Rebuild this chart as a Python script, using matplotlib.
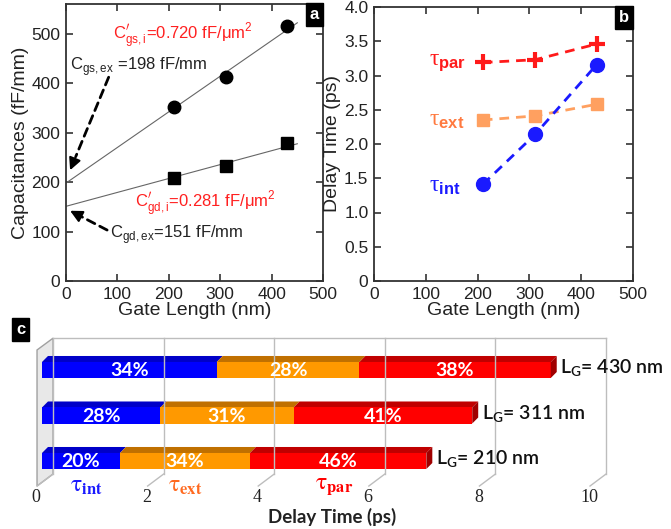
import numpy as np
import matplotlib
matplotlib.use('Agg')
import matplotlib.pyplot as plt
from matplotlib.patches import Polygon, Rectangle

plt.rcParams['font.family'] = ['Liberation Sans', 'DejaVu Sans']
plt.rcParams['mathtext.fontset'] = 'dejavusans'
plt.rcParams['mathtext.rm'] = 'Liberation Serif'
plt.rcParams['mathtext.it'] = 'Liberation Serif'
plt.rcParams['mathtext.bf'] = 'Liberation Sans:bold'

# Data
gate_len = [210, 311, 430]
cgs = [351, 413, 515]
cgd = [208, 233, 279]
cgs_ex, cgs_slope = 198, 0.720   # fF/mm, fF/um^2
cgd_ex, cgd_slope = 151, 0.281
fit_x = np.array([0, 450])

tau_int = [1.41, 2.14, 3.16]
tau_ext = [2.35, 2.41, 2.58]
tau_par = [3.19, 3.23, 3.46]

pct_int = [20, 28, 34]
pct_ext = [34, 31, 28]
pct_par = [46, 41, 38]
bar_labels = ['210', '311', '430']

W, H = 671, 529
fig = plt.figure(figsize=(W / 100, H / 100), dpi=100)


def px_rect(l, t, r, b):
    return [l / W, 1 - b / H, (r - l) / W, (b - t) / H]


def style_axes(ax):
    for s in ax.spines.values():
        s.set_linewidth(1.3)
        s.set_color('#333333')
    ax.tick_params(direction='in', length=5, width=1.2, color='#333333',
                   labelsize=12.5, labelcolor='#222222',
                   top=True, right=True, pad=4)


def panel_tag(ax, s):
    ax.text(0.985, 0.988, s, transform=ax.transAxes, ha='right', va='top',
            color='white', fontweight='bold', fontsize=12,
            bbox=dict(boxstyle='square,pad=0.25', fc='black', ec='black'))


def dashed_arrow(ax, head, tail, frac=0.22):
    # dashed shaft + solid head
    mid = (head[0] + (tail[0] - head[0]) * frac, head[1] + (tail[1] - head[1]) * frac)
    ax.annotate('', xy=mid, xytext=tail,
                arrowprops=dict(arrowstyle='-', linestyle=(0, (3, 2)), lw=2,
                                color='black', shrinkA=0, shrinkB=0))
    ax.annotate('', xy=head, xytext=mid,
                arrowprops=dict(arrowstyle='-|>', lw=1.5, color='black',
                                mutation_scale=18, shrinkA=0, shrinkB=0))


# ---- panel a ----
axa = fig.add_axes(px_rect(66, 4, 323, 281))
axa.plot(fit_x, cgs_ex + cgs_slope * fit_x, color='#666666', lw=0.8)
axa.plot(fit_x, cgd_ex + cgd_slope * fit_x, color='#666666', lw=0.8)
axa.plot(gate_len, cgs, 'o', color='black', markersize=9)
axa.plot(gate_len, cgd, 's', color='black', markersize=8)
axa.set_xlim(0, 500)
axa.set_ylim(0, 560)
axa.set_xticks([0, 100, 200, 300, 400, 500])
axa.set_yticks([0, 100, 200, 300, 400, 500])
axa.set_xlabel('Gate Length (nm)', fontsize=14, labelpad=0, color='#222222')
axa.set_ylabel('Capacitances (fF/mm)', fontsize=14, labelpad=2, color='#222222')
style_axes(axa)
panel_tag(axa, 'a')

axa.text(92, 496, r"C$^{\prime}_{\mathregular{gs,i}}$=0.720 fF/$\mathregular{\mu}$m$^{\mathregular{2}}$",
         color='#ff2020', fontsize=12, va='center')
axa.text(8, 434, r"C$_{\mathregular{gs,ex}}$ =198 fF/mm", color='#222222',
         fontsize=12, va='center')
axa.text(135, 157, r"C$^{\prime}_{\mathregular{gd,i}}$=0.281 fF/$\mathregular{\mu}$m$^{\mathregular{2}}$",
         color='#ff2020', fontsize=12, va='center')
axa.text(86, 93, r"C$_{\mathregular{gd,ex}}$=151 fF/mm", color='#222222',
         fontsize=12, va='center')
dashed_arrow(axa, (8, 224), (83, 412), frac=0.15)
dashed_arrow(axa, (8, 142), (80, 103), frac=0.3)

# ---- panel b ----
axb = fig.add_axes(px_rect(374, 7, 633, 281))
dash = (0, (3.5, 2.5))
axb.plot(gate_len, tau_par, color='#ff1a1a', ls=dash, lw=2, marker='+',
         markersize=11, markeredgewidth=3)
axb.plot(gate_len, tau_ext, color='#ffa060', ls=dash, lw=2, marker='s',
         markersize=8)
axb.plot(gate_len, tau_int, color='#1a1aff', ls=dash, lw=2, marker='o',
         markersize=10)
axb.set_xlim(0, 500)
axb.set_ylim(0, 4.0)
axb.set_xticks([0, 100, 200, 300, 400, 500])
axb.set_yticks(np.arange(0, 4.01, 0.5))
axb.set_yticklabels(['0'] + ['%.1f' % v for v in np.arange(0.5, 4.01, 0.5)])
axb.set_xlabel('Gate Length (nm)', fontsize=14, labelpad=0, color='#222222')
axb.set_ylabel('Delay Time (ps)', fontsize=14, labelpad=2, color='#222222')
style_axes(axb)
panel_tag(axb, 'b')

for lab, yv, col in [('par', 3.19, '#ff1a1a'), ('ext', 2.35, '#ff7a40'),
                     ('int', 1.38, '#1a1aff')]:
    axb.text(106, yv, r'$\mathrm{\tau}_{\mathbf{%s}}$' % lab, color=col,
             fontsize=17, va='center', math_fontfamily='custom')

# ---- panel c ----
PX_PER_PS, X0_PX, ROW_PX, ROW0_PX = 55.3, 42, 45.5, 461
axc = fig.add_axes(px_rect(0, 320, 671, 529))
axc.set_xlim(-X0_PX / PX_PER_PS, (W - X0_PX) / PX_PER_PS)
axc.set_ylim((ROW0_PX - 529) / ROW_PX, (ROW0_PX - 320) / ROW_PX)
axc.axis('off')

bx, by_top, by_bot = 0.2, 2.70, -0.286     # back wall
fx, fy_top, fy_bot = -0.09, 2.44, -0.55    # front edge
grid_c = '#bdbdbd'
axc.add_patch(Polygon([(bx, by_top), (fx, fy_top), (fx, fy_bot), (bx, by_bot)],
                      closed=True, fc='#e8e8e8', ec='#a0a0a0', lw=1))
ticks_c = [0, 2, 4, 6, 8, 10]
axc.plot([bx, bx + 10], [by_top, by_top], color=grid_c, lw=1)
for v in ticks_c:
    axc.plot([bx + v, bx + v], [by_bot, by_top], color=grid_c, lw=1)
    axc.plot([bx + v, fx + v], [by_bot, fy_bot], color=grid_c, lw=1)
    axc.text(fx + v - 0.02, -0.80, str(v), ha='center', va='center',
             fontsize=13, family='Liberation Serif', color='#222222')

bar_h, ddx, ddy = 0.352, 0.108, 0.132
seg_cols = [('#0000ff', '#0000c8'), ('#ff9900', '#c07000'), ('#ff0000', '#c00000')]
for i in range(3):
    segs = [tau_int[i], tau_ext[i], tau_par[i]]
    pcts = [pct_int[i], pct_ext[i], pct_par[i]]
    y0, y1 = i - bar_h / 2, i + bar_h / 2
    left = 0
    for (fc, tc), w, p in zip(seg_cols, segs, pcts):
        axc.add_patch(Polygon([(left, y1), (left + w, y1), (left + w + ddx, y1 + ddy),
                               (left + ddx, y1 + ddy)], closed=True, fc=tc, ec='none'))
        axc.add_patch(Rectangle((left, y0), w, bar_h, fc=fc, ec='none'))
        axc.text(left + w / 2, i - 0.02, '%d%%' % p, ha='center', va='center',
                 color='white', fontsize=14, fontweight='bold', family='Lato')
        left += w
    axc.add_patch(Polygon([(left, y0), (left, y1), (left + ddx, y1 + ddy),
                           (left + ddx, y0 + ddy)], closed=True, fc='#a00000', ec='none'))
    axc.text(left + 0.17, i + 0.03, r'L$_{\mathregular{G}}$= %s nm' % bar_labels[i],
             ha='left', va='center', fontsize=14, fontweight='semibold', family='Lato',
             color='#111111')

for lab, xv, col in [('int', 0.80, '#1a1aff'), ('ext', 2.60, '#ff6a20'),
                     ('par', 5.28, '#ff0000')]:
    axc.text(xv, -0.55, r'$\mathrm{\tau}_{\mathbf{%s}}$' % lab, color=col,
             fontsize=17, ha='center', va='center', math_fontfamily='stix')

axc.text(5.24, -1.23, 'Delay Time (ps)', ha='center', va='center', fontsize=13.5,
         fontweight='bold', family='Lato', color='#222222')
fig.text(16 / W, 1 - 322 / H, 'c', ha='left', va='top', color='white',
         fontweight='bold', fontsize=12,
         bbox=dict(boxstyle='square,pad=0.25', fc='black', ec='black'))

fig.savefig('out.png', dpi=100, facecolor='white')
